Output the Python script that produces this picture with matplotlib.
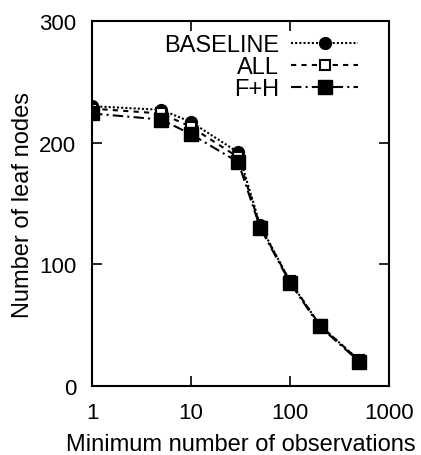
import matplotlib
matplotlib.use("Agg")
import matplotlib.pyplot as plt

plt.rcParams.update({"font.family": "Liberation Sans", "font.size": 16})

min_obs = [1, 5, 10, 30, 50, 100, 200, 500]
baseline = [230, 227, 217, 192, 132, 86, 50, 21]
all_feat = [228, 224, 213, 188, 131, 86, 50, 21]
fh = [224, 219, 207, 184, 130, 85, 49, 20]

fig = plt.figure(figsize=(4.21, 4.56), dpi=100)
ax = fig.add_axes([92/421, 1-387/456, 297/421, 365/456])

ax.plot(min_obs, baseline, color='black', ls=(0, (1, 1)), lw=1.5,
        marker='o', ms=8.5, label='BASELINE')
ax.plot(min_obs, all_feat, color='black', ls=(0, (2.5, 2.5)), lw=1.5,
        marker='s', ms=7.5, mfc='white', mew=1.5, label='ALL')
ax.plot(min_obs, fh, color='black', ls=(0, (5, 2, 1, 2)), lw=1.5,
        marker='s', ms=9.5, label='F+H')

ax.set_xscale('log')
ax.set_xlim(1, 1000)
ax.set_ylim(0, 300)
ax.set_xticks([1, 10, 100, 1000])
ax.set_xticklabels(['1', '10', '100', '1000'])
ax.set_yticks([0, 100, 200, 300])
ax.minorticks_off()
ax.tick_params(direction='in', length=7.5, width=1.2, top=True, right=True,
               pad=11.5, labelsize=16)
for s in ax.spines.values():
    s.set_linewidth(1.5)

ax.set_xlabel('Minimum number of observations', labelpad=7, fontsize=17)
ax.set_ylabel('Number of leaf nodes', labelpad=3.5, fontsize=17)

ax.legend(loc='upper right', frameon=False, markerfirst=False,
          handlelength=2.85, borderpad=0, borderaxespad=0.55, labelspacing=0.0,
          handletextpad=0.5, fontsize=17, bbox_to_anchor=(0.94, 1.0))

fig.savefig('out.png', dpi=100)
